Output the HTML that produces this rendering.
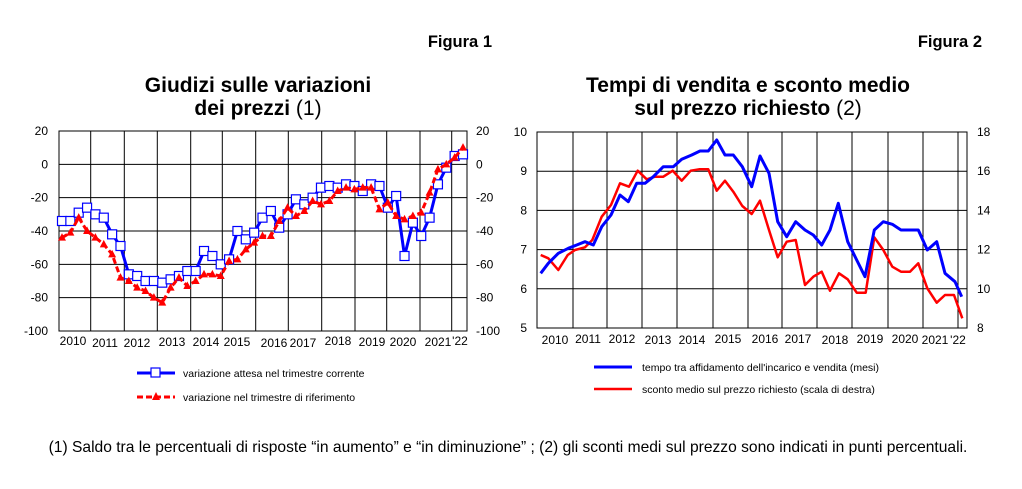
<!DOCTYPE html>
<html><head><meta charset="utf-8"><style>
body{margin:0;background:#fff;width:1022px;height:484px;overflow:hidden}
svg{font-family:"Liberation Sans",Arial,sans-serif}
</style></head><body>
<svg width="1022" height="484" viewBox="0 0 1022 484" xmlns="http://www.w3.org/2000/svg">
<g font-weight="bold" font-size="16.5" fill="#000">
<text x="492" y="47" text-anchor="end">Figura 1</text>
<text x="982" y="47" text-anchor="end">Figura 2</text>
</g>
<g font-size="21" fill="#000" text-anchor="middle">
<text x="258" y="92"><tspan font-weight="bold">Giudizi sulle variazioni</tspan></text>
<text x="258" y="115"><tspan font-weight="bold">dei prezzi </tspan>(1)</text>
<text x="748" y="92"><tspan font-weight="bold">Tempi di vendita e sconto medio</tspan></text>
<text x="748" y="115"><tspan font-weight="bold">sul prezzo richiesto </tspan>(2)</text>
</g>
<g id="c1"></g>
<g id="c2"></g>
<g font-size="10.5" fill="#000">
<line x1="137" y1="373" x2="175" y2="373" stroke="#0000ff" stroke-width="3"/>
<rect x="151" y="368" width="9" height="9" fill="#fff" stroke="#0000ff" stroke-width="1.2"/>
<text x="183" y="377">variazione attesa nel trimestre corrente</text>
<line x1="137" y1="397" x2="175" y2="397" stroke="#ff0000" stroke-width="3" stroke-dasharray="6,3"/>
<polygon points="156,392 160,400 152,400" fill="#ff0000"/>
<text x="183" y="401">variazione nel trimestre di riferimento</text>
<line x1="594" y1="367" x2="632" y2="367" stroke="#0000ff" stroke-width="3"/>
<text x="642" y="371">tempo tra affidamento dell'incarico e vendita (mesi)</text>
<line x1="594" y1="389" x2="632" y2="389" stroke="#ff0000" stroke-width="2.5"/>
<text x="642" y="393">sconto medio sul prezzo richiesto (scala di destra)</text>
</g>
<text x="508" y="452" font-size="15.6" text-anchor="middle" fill="#000">(1) Saldo tra le percentuali di risposte “in aumento” e “in diminuzione” ; (2) gli sconti medi sul prezzo sono indicati in punti percentuali.</text>
</svg>
<script>
const NS="http://www.w3.org/2000/svg";
function el(p,t,a,txt){const e=document.createElementNS(NS,t);for(const k in a)e.setAttribute(k,a[k]);if(txt!==undefined)e.textContent=txt;p.appendChild(e);return e;}
const FS=12;
const c1=document.getElementById('c1');
const L=59,R=467,T=131,B=331;
const y1=v=>T+(20-v)*(B-T)/120;
el(c1,'rect',{x:L,y:T,width:R-L,height:B-T,fill:'#fff',stroke:'#000','stroke-width':1});
for(let v=0;v>=-80;v-=20)el(c1,'line',{x1:L,x2:R,y1:y1(v),y2:y1(v),stroke:'#000','stroke-width':1});
[90.7,124.3,157.3,190.7,222.3,255.7,288.3,321.7,355,386.7,420,451.7].forEach(x=>el(c1,'line',{x1:x,x2:x,y1:T,y2:B,stroke:'#000','stroke-width':1}));
for(let v=20;v>=-100;v-=20){el(c1,'text',{x:48,y:y1(v)+4,'font-size':FS,'text-anchor':'end'},v);el(c1,'text',{x:476,y:y1(v)+4,'font-size':FS},v);}
[[73,341,'2010'],[105,343,'2011'],[137,343,'2012'],[172,342,'2013'],[206,342,'2014'],[237,342,'2015'],[274,343,'2016'],[303,343,'2017'],[338,341,'2018'],[372,342,'2019'],[403,342,'2020'],[438,342,'2021'],[460,341,"'22"]].forEach(a=>el(c1,'text',{x:a[0],y:a[1]+4,'font-size':FS,'text-anchor':'middle'},a[2]));
const blue=[-34,-34,-29,-26,-30,-32,-42,-49,-66,-67,-70,-70,-71,-69,-67,-64,-64,-52,-55,-60,-57,-40,-45,-41,-32,-28,-38,-30,-21,-24,-20,-14,-13,-14,-12,-13,-16,-12,-13,-26,-19,-55,-35,-43,-32,-12,-2,5,6];
const red=[-44,-41,-32,-40,-44,-48,-54,-68,-70,-74,-76,-80,-83,-74,-68,-73,-70,-66,-66,-67,-58,-57,-51,-47,-43,-43,-34,-26,-31,-28,-22,-24,-22,-16,-14,-15,-14,-14,-27,-23,-31,-33,-31,-29,-17,-3,0,4,10];
const xq=i=>62+i*(463-62)/48;
el(c1,'polyline',{points:blue.map((v,i)=>xq(i)+','+y1(v)).join(' '),fill:'none',stroke:'#0000ff','stroke-width':3});
blue.forEach((v,i)=>el(c1,'rect',{x:xq(i)-4.5,y:y1(v)-4.5,width:9,height:9,fill:'#fff',stroke:'#0000ff','stroke-width':1.2}));
el(c1,'polyline',{points:red.map((v,i)=>xq(i)+','+y1(v)).join(' '),fill:'none',stroke:'#ff0000','stroke-width':3,'stroke-dasharray':'6,3'});
red.forEach((v,i)=>el(c1,'polygon',{points:`${xq(i)},${y1(v)-4.5} ${xq(i)+4},${y1(v)+3} ${xq(i)-4},${y1(v)+3}`,fill:'#ff0000'}));
const c2=document.getElementById('c2');
const L2=537,R2=967,T2=132,B2=328;
const y2=v=>T2+(10-v)*(B2-T2)/5;
el(c2,'rect',{x:L2,y:T2,width:R2-L2,height:B2-T2,fill:'#fff',stroke:'#000','stroke-width':1});
for(let v=9;v>=6;v--)el(c2,'line',{x1:L2,x2:R2,y1:y2(v),y2:y2(v),stroke:'#000','stroke-width':1});
[573,607,642,677,713,748,782,817,852,888,923,958].forEach(x=>el(c2,'line',{x1:x,x2:x,y1:T2,y2:B2,stroke:'#000','stroke-width':1}));
for(let v=10;v>=5;v--)el(c2,'text',{x:527,y:y2(v)+4,'font-size':FS,'text-anchor':'end'},v);
for(let v=18;v>=8;v-=2)el(c2,'text',{x:977,y:T2+(18-v)*(B2-T2)/10+4,'font-size':FS},v);
[[555,340,'2010'],[588,339,'2011'],[622,339,'2012'],[658,340,'2013'],[692,340,'2014'],[728,339,'2015'],[765,339,'2016'],[798,339,'2017'],[835,340,'2018'],[870,339,'2019'],[905,339,'2020'],[935,340,'2021'],[958,340,"'22"]].forEach(a=>el(c2,'text',{x:a[0],y:a[1]+4,'font-size':FS,'text-anchor':'middle'},a[2]));
const b2=[[107,460],[130,430],[160,400],[190,385],[215,375],[240,365],[265,375],[290,320],[318,285],[345,225],[370,245],[395,190],[420,190],[445,170],[475,140],[505,140],[530,118],[560,105],[585,93],[610,93],[635,60],[660,105],[685,105],[712,140],[740,200],[765,108],[792,160],[818,305],[845,350],[872,305],[900,330],[925,345],[950,375],[975,330],[1000,250],[1028,365],[1055,420],[1080,470],[1108,330],[1135,305],[1162,313],[1188,330],[1215,330],[1240,330],[1267,390],[1295,365],[1320,460],[1350,485],[1370,530]];
const r2=[[107,405],[130,415],[160,450],[188,405],[210,390],[240,382],[262,360],[290,290],[318,255],[345,190],[372,200],[398,152],[425,178],[450,170],[475,170],[503,152],[530,182],[557,152],[582,148],[610,148],[635,212],[660,182],[685,215],[712,258],[740,282],[765,242],[792,330],[818,412],[845,365],[872,360],[900,495],[925,470],[950,455],[975,512],[1002,460],[1028,478],[1055,518],[1082,518],[1108,352],[1135,390],[1162,440],[1188,455],[1215,455],[1240,430],[1267,505],[1295,548],[1320,525],[1347,525],[1372,595]];
const tp=a=>a.map(p=>(505+p[0]/3).toFixed(1)+','+(120+p[1]/3).toFixed(1)).join(' ');
el(c2,'polyline',{points:tp(r2),fill:'none',stroke:'#ff0000','stroke-width':2.5,'stroke-linejoin':'round'});
el(c2,'polyline',{points:tp(b2),fill:'none',stroke:'#0000ff','stroke-width':3,'stroke-linejoin':'round'});
</script>
</body></html>
